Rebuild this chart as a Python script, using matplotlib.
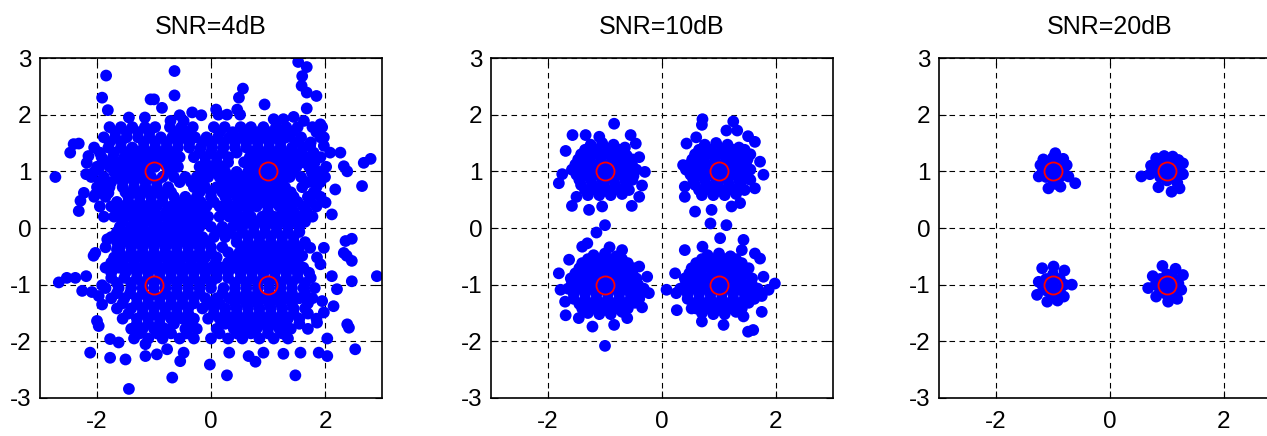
#!/usr/bin/env python3
"""
QPSK constellation under noise: SNR 4 / 10 / 20 dB.
"""
import numpy as np
import matplotlib
matplotlib.use("Agg")
import matplotlib.pyplot as plt

plt.rcParams["font.family"] = ["Liberation Sans", "DejaVu Sans"]
plt.rcParams["axes.unicode_minus"] = False

titles = ["SNR=4dB", "SNR=10dB", "SNR=20dB"]
ideal_x = [-1, 1, -1, 1]
ideal_y = [1, 1, -1, -1]
xticks = [-2, 0, 2]
yticks = [-3, -2, -1, 0, 1, 2, 3]

# SNR=4dB, dense middle read row by row: (y, [x...])
snr4_rows = [
    (1.78, [-1.78, -1.58, -1.38, -1.16, -0.98, -0.72, -0.52, -0.32, 0.05, 0.24, 0.52, 0.70, 0.92, 1.14, 1.32, 1.52, 1.78, 1.95]),
    (1.69, [-1.68, -1.48, -1.28, -1.08, -0.62, -0.42, 0.15, 0.38, 0.62, 0.82, 1.02, 1.22, 1.42, 1.85]),
    (1.60, [-1.88, -1.68, -1.48, -1.28, -1.08, -0.88, -0.68, -0.48, -0.28, -0.08, 0.12, 0.32, 0.52, 0.72, 0.92, 1.12, 1.32, 1.58, 1.92]),
    (1.51, [-1.78, -1.58, -1.18, -0.98, -0.78, -0.58, -0.38, -0.15, 0.02, 0.22, 0.42, 0.62, 0.82, 1.02, 1.22, 1.48, 1.75]),
    (1.42, [-2.05, -1.80, -1.58, -1.38, -1.18, -0.98, -0.78, -0.58, -0.38, -0.18, 0.02, 0.22, 0.42, 0.62, 0.82, 1.02, 1.22, 1.42, 1.62]),
    (1.33, [-1.95, -1.70, -1.48, -1.28, -1.08, -0.88, -0.68, -0.20, 0.00, 0.20, 0.45, 0.75, 0.95, 1.15, 1.38, 1.58, 1.80]),
    (1.25, [-1.92, -1.72, -1.52, -1.32, -1.12, -0.92, -0.72, -0.55, -0.30, -0.10, 0.10, 0.30, 0.68, 0.88, 1.08, 1.28, 1.48, 1.68, 1.92]),
    (1.16, [-1.85, -1.65, -1.45, -1.25, -1.05, -0.85, -0.65, -0.10, 0.10, 0.30, 0.58, 0.80, 1.00, 1.20, 1.40, 1.60, 1.82]),
    (1.08, [-2.00, -1.78, -1.58, -1.38, -1.18, -0.98, -0.78, -0.58, -0.20, 0.00, 0.20, 0.70, 0.90, 1.10, 1.30, 1.50, 1.72, 2.02]),
    (0.99, [-2.05, -1.70, -1.50, -1.30, -1.10, -0.70, -0.15, 0.05, 0.25, 0.45, 0.65, 0.85, 1.05, 1.25, 1.45, 1.90]),
    (0.90, [-2.10, -1.88, -1.65, -1.45, -1.25, -1.05, -0.85, -0.65, -0.45, -0.25, -0.05, 0.15, 0.35, 0.55, 0.75, 0.95, 1.15, 1.38, 1.58, 1.80, 2.00]),
    (0.81, [-1.95, -1.75, -1.55, -1.35, -1.15, -0.95, -0.55, -0.35, -0.15, 0.25, 0.45, 0.65, 0.85, 1.05, 1.25, 1.70, 1.92]),
    (0.72, [-2.00, -1.78, -1.55, -1.35, -1.15, -0.95, -0.75, -0.30, -0.10, 0.10, 0.30, 0.50, 0.70, 0.90, 1.10, 1.30, 1.60, 1.85]),
    (0.63, [-1.90, -1.50, -1.30, -1.10, -0.90, -0.70, -0.20, 0.00, 0.20, 0.40, 0.60, 0.80, 1.00, 1.20, 1.40, 1.80]),
    (0.55, [-2.05, -1.85, -1.45, -1.25, -1.05, -0.85, -0.65, -0.45, -0.25, 0.00, 0.25, 0.45, 0.65, 0.85, 1.05, 1.25, 1.45, 1.70, 1.92]),
    (0.46, [-1.65, -1.45, -1.25, -1.05, -0.85, -0.60, -0.38, -0.18, 0.05, 0.28, 0.50, 0.70, 0.90, 1.10, 1.30, 1.52, 1.75]),
    (0.38, [-1.95, -1.75, -1.55, -1.35, -1.15, -0.95, -0.70, -0.48, -0.28, -0.08, 0.15, 0.40, 0.60, 0.80, 1.00, 1.20, 1.40, 1.62, 1.85]),
    (0.29, [-1.60, -1.40, -1.20, -1.00, -0.78, -0.55, -0.35, -0.15, 0.25, 0.45, 0.65, 1.00, 1.25, 1.45, 1.68]),
    (0.20, [-1.70, -1.50, -1.30, -1.10, -0.90, -0.65, -0.45, -0.25, -0.05, 0.15, 0.32, 0.50, 0.70, 0.90, 1.10, 1.35, 1.55, 1.78]),
    (0.11, [-1.55, -1.35, -1.15, -0.95, -0.75, -0.50, -0.30, -0.10, 0.45, 0.62, 0.82, 1.02, 1.22, 1.45, 1.65]),
    (0.02, [-1.60, -1.40, -1.20, -1.00, -0.80, -0.60, -0.40, -0.20, 0.00, 0.20, 0.38, 0.55, 0.75, 0.95, 1.15, 1.35, 1.55]),
    (-0.07, [-1.65, -1.45, -1.25, -1.05, -0.85, -0.65, -0.45, -0.25, 0.10, 0.32, 0.55, 0.75, 0.95, 1.15, 1.35, 1.55]),
    (-0.16, [-1.75, -1.55, -1.35, -1.15, -0.95, -0.75, -0.55, -0.35, -0.15, 0.05, 0.25, 0.45, 0.65, 0.85, 1.05, 1.25, 1.45]),
    (-0.25, [-1.65, -1.45, -1.25, -1.05, -0.85, -0.65, -0.45, -0.25, -0.05, 0.45, 0.65, 0.85, 1.05, 1.25, 1.45, 1.65]),
    (-0.34, [-1.85, -1.60, -1.40, -1.20, -1.00, -0.80, -0.60, -0.40, -0.20, 0.00, 0.20, 0.55, 0.75, 0.95, 1.15, 1.35, 1.55]),
    (-0.43, [-1.60, -1.40, -1.20, -1.00, -0.80, -0.60, -0.40, -0.20, 0.00, 0.30, 0.50, 0.70, 0.90, 1.10, 1.30, 1.50]),
    (-0.52, [-1.70, -1.50, -1.30, -1.10, -0.90, -0.70, -0.50, -0.30, -0.10, 0.10, 0.40, 0.60, 0.80, 1.00, 1.20, 1.40]),
    (-0.61, [-1.75, -1.55, -1.35, -1.15, -0.95, -0.75, -0.55, -0.35, -0.15, 0.08, 0.30, 0.50, 0.70, 0.90, 1.10, 1.30, 1.52]),
    (-0.70, [-1.85, -1.62, -1.40, -1.20, -1.00, -0.80, -0.60, -0.40, -0.20, 0.00, 0.20, 0.42, 0.62, 0.82, 1.02, 1.22, 1.42, 1.62]),
    (-0.79, [-1.75, -1.50, -1.30, -1.10, -0.90, -0.70, -0.50, -0.30, -0.10, 0.10, 0.30, 0.52, 0.72, 0.92, 1.12, 1.32, 1.52, 1.72]),
    (-0.88, [-1.75, -1.52, -1.30, -1.10, -0.90, -0.70, -0.50, -0.30, -0.10, 0.10, 0.30, 0.52, 0.72, 0.92, 1.12, 1.32, 1.52, 1.75]),
    (-0.97, [-1.65, -1.40, -1.20, -1.00, -0.80, -0.60, -0.40, -0.20, 0.00, 0.42, 0.62, 0.82, 1.02, 1.22, 1.42, 1.65]),
    (-1.06, [-1.85, -1.62, -1.40, -1.20, -1.00, -0.80, -0.60, -0.40, -0.20, 0.00, 0.22, 0.42, 0.62, 0.82, 1.02, 1.22, 1.42, 1.62, 1.82]),
    (-1.15, [-1.65, -1.42, -1.20, -1.00, -0.80, -0.60, -0.40, -0.20, 0.20, 0.42, 0.62, 0.82, 1.02, 1.22, 1.42, 1.65]),
    (-1.24, [-1.75, -1.52, -1.30, -1.10, -0.90, -0.70, -0.50, -0.30, -0.10, 0.10, 0.32, 0.52, 0.72, 0.92, 1.12, 1.32, 1.55, 1.78]),
    (-1.33, [-1.55, -1.30, -1.10, -0.90, -0.70, -0.50, -0.30, -0.05, 0.15, 0.42, 0.62, 0.82, 1.02, 1.22, 1.42, 1.70]),
    (-1.42, [-1.65, -1.40, -1.20, -1.00, -0.80, -0.60, -0.40, -0.15, 0.05, 0.25, 0.45, 0.65, 0.85, 1.05, 1.25, 1.45, 1.65]),
    (-1.51, [-1.45, -1.20, -1.00, -0.80, -0.60, -0.40, 0.05, 0.25, 0.45, 0.65, 0.85, 1.05, 1.25, 1.45, 1.70]),
    (-1.60, [-1.55, -1.30, -1.10, -0.90, -0.70, -0.50, -0.30, -0.05, 0.15, 0.35, 0.55, 0.75, 0.95, 1.15, 1.35, 1.55, 1.85]),
    (-1.69, [-1.30, -1.10, -0.90, -0.65, -0.35, 0.25, 0.50, 0.70, 0.90, 1.10, 1.30, 1.55]),
    (-1.78, [-1.40, -1.20, -1.00, -0.80, -0.45, -0.25, 0.10, 0.40, 0.60, 0.80, 1.00, 1.20, 1.40, 1.70]),
    (-1.86, [-1.25, -0.95, -0.70, -0.42, 0.15, 0.45, 0.70, 1.00, 1.25]),
    (-1.95, [-1.35, -1.10, -0.85, -0.55, -0.30, 0.00, 0.30, 0.55, 0.85, 1.10, 1.35]),
]

# SNR=4dB, loose points round the edge
snr4_edge = [
    (-1.84, 2.69), (-0.64, 2.77), (1.53, 2.93), (1.68, 2.84), (1.60, 2.68), (1.59, 2.51),
    (1.68, 2.39), (1.85, 2.33), (0.56, 2.46), (0.49, 2.30), (0.94, 2.18), (-0.64, 2.34),
    (-1.91, 2.30), (-1.06, 2.27), (-1.00, 2.27), (-0.86, 2.12), (-1.81, 2.08), (1.68, 2.11),
    (0.09, 2.09), (0.13, 2.00), (0.28, 2.00), (0.46, 2.09), (0.51, 2.00), (-0.33, 2.04),
    (-0.17, 1.99), (-1.16, 1.95), (-1.44, 1.95), (-0.55, 1.99), (-0.71, 1.89), (-0.48, 1.89),
    (1.10, 1.92), (1.27, 1.92), (1.45, 1.96), (1.63, 1.89), (1.92, 1.83),
    (-2.73, 0.90), (-2.41, 1.48), (-2.32, 1.49), (-2.47, 1.33), (-2.15, 1.27), (-2.18, 1.15),
    (-2.19, 0.95), (-2.23, 0.62), (-2.29, 0.48), (-2.32, 0.30), (-1.88, 0.20), (-2.03, 0.59),
    (-1.80, 0.62), (-1.97, 1.04), (-1.94, 0.81), (-1.82, -0.20), (-1.65, -0.38), (-2.03, -0.44),
    (-2.06, -0.49), (-2.67, -0.96), (-2.53, -0.88), (-2.38, -0.88), (-2.19, -0.85), (-2.26, -1.11),
    (-2.09, -1.13), (-1.91, -1.01), (-1.97, -1.20), (-1.91, -1.35), (-2.00, -1.64), (-1.97, -1.73),
    (-2.12, -2.20), (-1.77, -1.96), (-1.77, -2.29), (-1.62, -2.02), (-1.50, -2.32), (-1.44, -2.84),
    (-1.15, -2.26), (-1.15, -2.05), (-0.95, -2.23), (-0.77, -2.14), (-0.68, -2.64), (-0.54, -2.35),
    (-0.48, -2.20), (-0.02, -2.41), (0.28, -2.60), (0.32, -2.20), (0.66, -2.26), (0.78, -2.36),
    (0.92, -2.20), (1.27, -2.22), (1.48, -2.60), (1.57, -2.20), (1.89, -2.20), (2.04, -2.26),
    (2.04, -1.95), (2.53, -2.14), (2.39, -1.70), (2.42, -1.76), (2.15, -1.38), (1.98, -1.49),
    (1.86, -1.67), (2.21, -1.08), (2.47, -0.94), (2.91, -0.85), (2.12, -0.85), (1.95, -1.29),
    (2.33, -0.44), (2.36, -0.23), (2.47, -0.19), (2.38, -0.49), (2.47, -0.58), (1.98, -0.35),
    (1.74, -0.35), (1.60, -0.49), (1.86, -0.52), (1.92, -0.64),
    (2.65, 0.74), (2.68, 1.15), (2.80, 1.22), (2.33, 1.09), (2.39, 1.00), (2.09, 1.33),
    (2.27, 1.33), (1.98, 1.45), (1.98, 1.60), (2.12, 0.24), (2.18, 0.68), (2.01, 0.45),
    (1.77, 0.98), (1.74, 1.45), (1.80, 1.30),
]

snr10_pts = [
    # around (-1, 1)
    (-1.25, 1.47), (-1.05, 1.50), (-0.85, 1.47), (-0.65, 1.42),
    (-1.35, 1.38), (-1.15, 1.38), (-0.95, 1.38), (-0.75, 1.38),
    (-1.42, 1.30), (-1.22, 1.30), (-1.02, 1.30), (-0.82, 1.30), (-0.62, 1.28),
    (-1.47, 1.21), (-1.27, 1.21), (-1.07, 1.21), (-0.87, 1.21), (-0.67, 1.21), (-0.52, 1.21),
    (-1.52, 1.12), (-1.32, 1.12), (-1.12, 1.12), (-0.92, 1.12), (-0.72, 1.12), (-0.52, 1.10),
    (-1.58, 1.03), (-1.42, 1.03), (-1.22, 1.03), (-1.02, 1.03), (-0.82, 1.03), (-0.62, 1.03), (-0.45, 1.03),
    (-1.50, 0.94), (-1.30, 0.94), (-1.10, 0.94), (-0.90, 0.94), (-0.70, 0.94), (-0.50, 0.92),
    (-1.45, 0.85), (-1.25, 0.85), (-1.05, 0.85), (-0.85, 0.85), (-0.65, 0.85), (-0.52, 0.85),
    (-1.42, 0.76), (-1.22, 0.76), (-1.02, 0.76), (-0.82, 0.76), (-0.62, 0.76),
    (-1.35, 0.67), (-1.15, 0.67), (-0.95, 0.67), (-0.75, 0.67), (-0.58, 0.67),
    (-1.30, 0.58), (-1.10, 0.58), (-0.90, 0.58), (-0.70, 0.60),
    (-0.84, 1.84), (-1.57, 1.64), (-1.69, 1.36), (-1.81, 0.79), (-1.58, 0.39), (-1.28, 0.32),
    (-1.05, 0.38), (-0.53, 0.39), (-0.40, 0.55), (-0.30, 0.99), (-0.55, 1.64), (-0.46, 1.49),
    (-1.34, 1.64), (-1.10, 1.61), (-1.75, 0.95), (-1.50, 0.55), (-0.35, 0.75), (-0.40, 1.25),
    # around (1, 1)
    (0.75, 1.47), (0.95, 1.50), (1.15, 1.47), (1.35, 1.42),
    (0.65, 1.38), (0.85, 1.38), (1.05, 1.38), (1.25, 1.38), (1.45, 1.38),
    (0.58, 1.30), (0.78, 1.30), (0.98, 1.30), (1.18, 1.30), (1.38, 1.28),
    (0.53, 1.21), (0.73, 1.21), (0.93, 1.21), (1.13, 1.21), (1.33, 1.21), (1.50, 1.21),
    (0.48, 1.12), (0.68, 1.12), (0.88, 1.12), (1.08, 1.12), (1.28, 1.12), (1.48, 1.10),
    (0.42, 1.03), (0.58, 1.03), (0.78, 1.03), (0.98, 1.03), (1.18, 1.03), (1.38, 1.03), (1.55, 1.03),
    (0.50, 0.94), (0.70, 0.94), (0.90, 0.94), (1.10, 0.94), (1.30, 0.94), (1.45, 0.90),
    (0.55, 0.85), (0.75, 0.85), (0.95, 0.85), (1.15, 0.85), (1.35, 0.85), (1.55, 0.85),
    (0.58, 0.76), (0.78, 0.76), (0.98, 0.76), (1.18, 0.76), (1.38, 0.76),
    (0.65, 0.67), (0.85, 0.67), (1.05, 0.67), (1.25, 0.67), (1.45, 0.67),
    (0.70, 0.58), (0.90, 0.58), (1.10, 0.58), (1.30, 0.60),
    (0.71, 1.92), (0.70, 1.82), (1.25, 1.88), (1.32, 1.72), (1.13, 1.72), (0.43, 1.49),
    (0.37, 1.11), (0.40, 0.73), (0.40, 0.55), (0.58, 0.29), (0.85, 0.08), (1.13, 0.05),
    (0.87, 0.32), (1.63, 1.52), (1.51, 1.62), (1.78, 0.94), (1.72, 1.17), (1.63, 0.70),
    (1.37, 0.44), (1.22, 0.38), (0.60, 1.60), (1.55, 1.30),
    # around (-1, -1)
    (-1.20, -0.48), (-1.00, -0.45), (-0.80, -0.50),
    (-1.30, -0.55), (-1.10, -0.55), (-0.90, -0.55), (-0.70, -0.55),
    (-1.40, -0.62), (-1.20, -0.62), (-1.00, -0.62), (-0.80, -0.62), (-0.60, -0.62),
    (-1.45, -0.71), (-1.25, -0.71), (-1.05, -0.71), (-0.85, -0.71), (-0.65, -0.71), (-0.50, -0.71),
    (-1.52, -0.80), (-1.32, -0.80), (-1.12, -0.80), (-0.92, -0.80), (-0.72, -0.80), (-0.52, -0.80),
    (-1.60, -0.89), (-1.42, -0.89), (-1.22, -0.89), (-1.02, -0.89), (-0.82, -0.89), (-0.62, -0.89), (-0.45, -0.89),
    (-1.58, -0.98), (-1.38, -0.98), (-1.18, -0.98), (-0.98, -0.98), (-0.78, -0.98), (-0.58, -0.98), (-0.42, -1.00),
    (-1.65, -1.07), (-1.48, -1.07), (-1.28, -1.07), (-1.08, -1.07), (-0.88, -1.07), (-0.68, -1.07), (-0.48, -1.07), (-0.32, -1.07),
    (-1.55, -1.16), (-1.35, -1.16), (-1.15, -1.16), (-0.95, -1.16), (-0.75, -1.16), (-0.55, -1.16), (-0.40, -1.18),
    (-1.55, -1.25), (-1.35, -1.25), (-1.15, -1.25), (-0.95, -1.25), (-0.75, -1.25), (-0.55, -1.25), (-0.40, -1.25),
    (-1.45, -1.34), (-1.25, -1.34), (-1.05, -1.34), (-0.85, -1.34), (-0.65, -1.34), (-0.48, -1.32),
    (-1.40, -1.42), (-1.20, -1.42), (-1.00, -1.42), (-0.80, -1.42), (-0.60, -1.42),
    (-1.30, -1.50), (-1.10, -1.52), (-0.90, -1.52), (-0.70, -1.48),
    (-1.00, 0.05), (-1.15, -0.08), (-1.40, -0.33), (-1.31, -0.27), (-0.92, -0.34), (-0.70, -0.39),
    (-1.81, -0.80), (-1.78, -1.09), (-1.69, -1.54), (-1.46, -1.59), (-1.22, -1.74), (-0.84, -1.71),
    (-0.61, -1.59), (-0.23, -1.15), (-0.26, -0.86), (-0.40, -0.68), (-1.00, -2.08), (-1.63, -0.56),
    (-1.70, -1.30), (-0.35, -1.40),
    # around (1, -1)
    (0.80, -0.48), (1.00, -0.45), (1.20, -0.50),
    (0.70, -0.55), (0.90, -0.55), (1.10, -0.55), (1.30, -0.55),
    (0.60, -0.62), (0.80, -0.62), (1.00, -0.62), (1.20, -0.62), (1.40, -0.62),
    (0.52, -0.71), (0.72, -0.71), (0.92, -0.71), (1.12, -0.71), (1.32, -0.71), (1.52, -0.71),
    (0.48, -0.80), (0.68, -0.80), (0.88, -0.80), (1.08, -0.80), (1.28, -0.80), (1.48, -0.80),
    (0.40, -0.89), (0.58, -0.89), (0.78, -0.89), (0.98, -0.89), (1.18, -0.89), (1.38, -0.89), (1.58, -0.89),
    (0.42, -0.98), (0.62, -0.98), (0.82, -0.98), (1.02, -0.98), (1.22, -0.98), (1.42, -0.98), (1.58, -1.00),
    (0.32, -1.07), (0.52, -1.07), (0.72, -1.07), (0.92, -1.07), (1.12, -1.07), (1.32, -1.07), (1.52, -1.07), (1.68, -1.07),
    (0.45, -1.16), (0.65, -1.16), (0.85, -1.16), (1.05, -1.16), (1.25, -1.16), (1.45, -1.16), (1.60, -1.18),
    (0.45, -1.25), (0.65, -1.25), (0.85, -1.25), (1.05, -1.25), (1.25, -1.25), (1.45, -1.25), (1.62, -1.25),
    (0.55, -1.34), (0.75, -1.34), (0.95, -1.34), (1.15, -1.34), (1.35, -1.34), (1.52, -1.32),
    (0.60, -1.42), (0.80, -1.42), (1.00, -1.42), (1.20, -1.42), (1.40, -1.42),
    (0.70, -1.50), (0.90, -1.52), (1.10, -1.52), (1.30, -1.48),
    (1.02, -0.18), (1.43, -0.21), (1.40, -0.39), (0.40, -0.39), (0.71, -0.33), (0.08, -1.09),
    (0.23, -0.80), (0.26, -1.45), (1.60, -1.80), (1.51, -1.83), (1.98, -0.98), (1.87, -1.09),
    (1.75, -1.48), (1.63, -0.45), (1.72, -0.54), (1.78, -0.86), (1.08, -1.71), (0.70, -1.65),
    (1.43, -1.56), (0.52, -1.42), (0.25, -1.15), (1.75, -1.20),
]

snr20_pts = [
    (-1.00, 1.00), (-1.12, 1.10), (-0.88, 1.10), (-1.12, 0.90), (-0.88, 0.90), (-1.00, 1.15),
    (-1.00, 0.85), (-0.96, 1.32), (-1.22, 1.11), (-0.76, 1.11), (-1.25, 0.91), (-1.08, 0.70),
    (-0.87, 0.73), (-0.73, 0.91), (-1.17, 1.21), (-0.82, 1.22), (-0.61, 0.79), (-0.96, 0.78),
    (-1.18, 1.00), (-0.82, 1.00), (-1.00, 1.24), (-0.90, 1.22),
    (1.00, 1.00), (0.88, 1.10), (1.12, 1.10), (0.88, 0.90), (1.12, 0.90), (1.00, 1.18),
    (1.00, 0.84), (0.55, 0.91), (0.70, 0.95), (1.22, 0.70), (1.28, 1.14), (0.81, 1.23),
    (1.10, 1.26), (0.95, 1.27), (1.08, 0.64), (0.85, 0.72), (1.28, 0.95), (0.72, 1.10),
    (1.20, 1.02), (0.80, 1.00), (1.18, 0.80), (1.20, 1.20),
    (-1.00, -1.00), (-1.12, -0.90), (-0.88, -0.90), (-1.12, -1.10), (-0.88, -1.10), (-1.00, -0.82),
    (-1.00, -1.18), (-1.28, -1.18), (-1.10, -1.30), (-0.67, -1.00), (-0.99, -0.68), (-1.19, -0.71),
    (-0.81, -1.21), (-1.25, -0.95), (-0.80, -0.75), (-0.92, -1.28), (-1.18, -1.02), (-0.80, -1.00),
    (1.00, -1.00), (0.88, -0.90), (1.12, -0.90), (0.88, -1.10), (1.12, -1.10), (1.00, -0.82),
    (1.00, -1.18), (0.92, -0.67), (0.67, -1.06), (1.02, -1.30), (1.25, -1.09), (1.28, -0.83),
    (0.81, -1.21), (0.75, -0.85), (1.18, -1.25), (1.15, -0.72), (1.20, -0.98), (0.80, -1.00),
]

snr4_pts = [(x, y) for y, xs in snr4_rows for x in xs] + snr4_edge
panels = [np.array(snr4_pts), np.array(snr10_pts), np.array(snr20_pts)]

W, H = 1267, 436
fig = plt.figure(figsize=(W / 100, H / 100), dpi=100)
lefts = [40, 491, 939]
for i, (pts, title) in enumerate(zip(panels, titles)):
    ax = fig.add_axes([lefts[i] / W, 38 / H, 342 / W, 340 / H])
    ax.scatter(pts[:, 0], pts[:, 1], s=72, c="#0000ff", edgecolors="none", zorder=2)
    ax.plot(ideal_x, ideal_y, "o", ms=13, mfc="none", mec="#ff0000", mew=1.3, zorder=3)
    ax.set_xlim(-3, 3)
    ax.set_ylim(-3, 3)
    ax.set_xticks(xticks)
    ax.set_yticks(yticks)
    ax.grid(True, color="k", ls=(0, (5, 4)), lw=0.8)
    ax.set_axisbelow(True)
    ax.tick_params(direction="in", top=True, right=True, length=5, labelsize=17.5, pad=6)
    ax.tick_params(axis="x", pad=9)
    for s in ax.spines.values():
        s.set_linewidth(1.2)
    ax.set_title(title, fontsize=18, pad=17)

fig.savefig("out.png", dpi=100)
